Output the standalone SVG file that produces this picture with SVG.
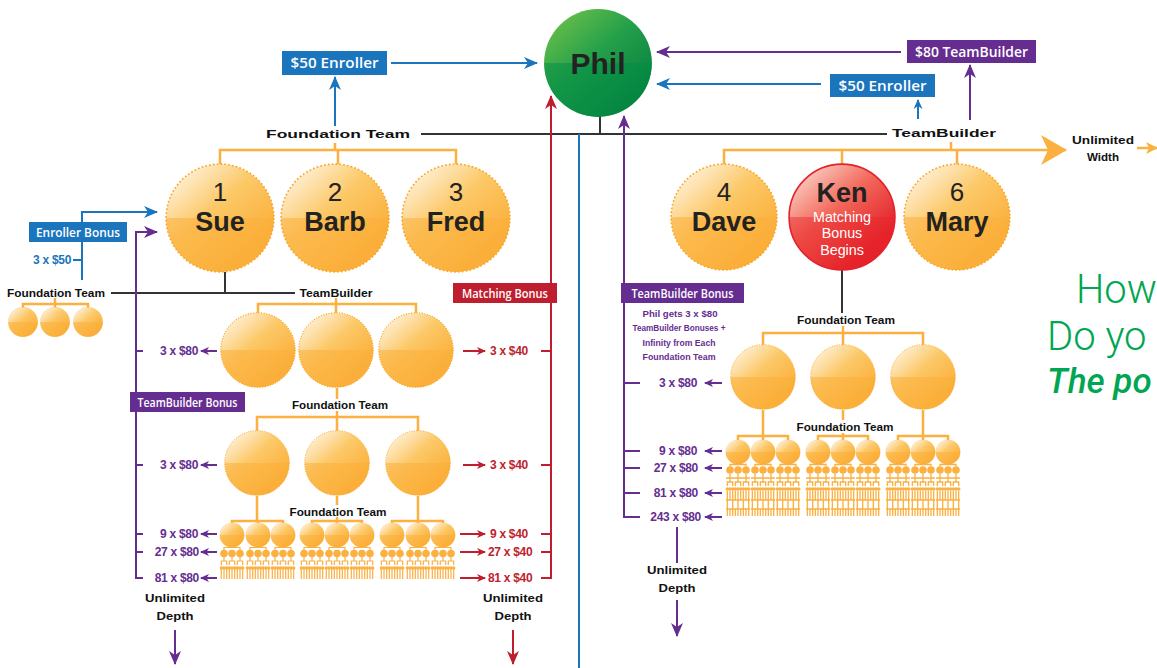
<svg xmlns="http://www.w3.org/2000/svg" xmlns:xlink="http://www.w3.org/1999/xlink" width="1157" height="668" viewBox="0 0 1157 668">
<style>
.k{font-family:"Liberation Sans",Arial,sans-serif;font-weight:bold;fill:#111;font-size:11px}
.am{font-family:"Liberation Sans",Arial,sans-serif;font-weight:bold;font-size:12px;letter-spacing:-0.3px}
.pu{fill:#662d91}.rd{fill:#be1e2d}.bl{fill:#1b75bc}
.bx{font-family:"Open Sans","Liberation Sans",sans-serif;font-weight:600;fill:#fff}
.nm{font-family:"Liberation Sans",Arial,sans-serif;fill:#222;text-anchor:middle}
.num{font-size:26px;font-weight:400}
.name{font-size:27px;font-weight:700}
.kw{font-size:14.3px;fill:#fff}
.ln{fill:none;stroke-width:2}
.cb{stroke:#1b75bc}.cp{stroke:#662d91}.cr{stroke:#be1e2d}.ck{stroke:#333}.co{stroke:#fbb040;stroke-width:2.5}
.gr{font-family:Roboto,"Liberation Sans",sans-serif;fill:#00a651}
</style>
<defs>
<linearGradient id="gO" x1="0.1" y1="0.05" x2="0.75" y2="0.8"><stop offset="0" stop-color="#fff4e2"/><stop offset="0.5" stop-color="#fcc867"/><stop offset="1" stop-color="#fbb03b"/></linearGradient>
<linearGradient id="gR" x1="0.1" y1="0.05" x2="0.75" y2="0.8"><stop offset="0" stop-color="#fcd6cc"/><stop offset="0.5" stop-color="#f2685a"/><stop offset="1" stop-color="#e3222b"/></linearGradient>
<linearGradient id="gG" x1="0.1" y1="0.05" x2="0.8" y2="0.85"><stop offset="0" stop-color="#6cbf4a"/><stop offset="0.5" stop-color="#23a04a"/><stop offset="1" stop-color="#0a8240"/></linearGradient>
<symbol id="ball" viewBox="-50 -50 100 100" overflow="visible"><circle r="49" fill="url(#gO)"/><path d="M-49,0 A49,49 0 0 0 49,0 Z" fill="#fbaf3a" fill-opacity="0.55"/><circle r="49" fill="none" stroke="#f7a623" stroke-width="1.5" stroke-dasharray="1.5 2"/></symbol>
<symbol id="rball" viewBox="-50 -50 100 100" overflow="visible"><circle r="49" fill="url(#gR)"/><path d="M-49,0 A49,49 0 0 0 49,0 Z" fill="#e8262b" fill-opacity="0.45"/><circle r="49" fill="none" stroke="#e3222b" stroke-width="1.5"/></symbol>
<symbol id="gball" viewBox="-50 -50 100 100" overflow="visible"><circle r="49" fill="url(#gG)"/><path d="M-49,0 A49,49 0 0 0 49,0 Z" fill="#008c44" fill-opacity="0.5"/></symbol>
<marker id="aB" viewBox="0 0 14 12" refX="13" refY="6" markerWidth="14" markerHeight="12" markerUnits="userSpaceOnUse" orient="auto"><path d="M0,0 L14,6 L0,12 L4,6 Z" fill="#1b75bc"/></marker>
<marker id="aP" viewBox="0 0 14 12" refX="13" refY="6" markerWidth="14" markerHeight="12" markerUnits="userSpaceOnUse" orient="auto"><path d="M0,0 L14,6 L0,12 L4,6 Z" fill="#662d91"/></marker>
<marker id="aR" viewBox="0 0 14 12" refX="13" refY="6" markerWidth="14" markerHeight="12" markerUnits="userSpaceOnUse" orient="auto"><path d="M0,0 L14,6 L0,12 L4,6 Z" fill="#be1e2d"/></marker>
<marker id="sP" viewBox="0 0 9 8" refX="8" refY="4" markerWidth="9" markerHeight="8" markerUnits="userSpaceOnUse" orient="auto"><path d="M0,0 L9,4 L0,8 L2.5,4 Z" fill="#662d91"/></marker>
<marker id="sR" viewBox="0 0 9 8" refX="8" refY="4" markerWidth="9" markerHeight="8" markerUnits="userSpaceOnUse" orient="auto"><path d="M0,0 L9,4 L0,8 L2.5,4 Z" fill="#be1e2d"/></marker>
<marker id="sB" viewBox="0 0 10 9" refX="9" refY="4.5" markerWidth="10" markerHeight="9" markerUnits="userSpaceOnUse" orient="auto"><path d="M0,0 L10,4.5 L0,9 L3,4.5 Z" fill="#1b75bc"/></marker>
<marker id="aO" viewBox="0 0 26 30" refX="25" refY="15" markerWidth="26" markerHeight="30" markerUnits="userSpaceOnUse" orient="auto"><path d="M0,0 L26,15 L0,30 L7,15 Z" fill="#fbb040"/></marker>
<marker id="sO" viewBox="0 0 12 12" refX="11" refY="6" markerWidth="12" markerHeight="12" markerUnits="userSpaceOnUse" orient="auto"><path d="M0,0 L12,6 L0,12 L3,6 Z" fill="#fbb040"/></marker>
<g id="famL">
<use href="#ball" x="-12.5" y="-12.5" width="25" height="25"/>
<path d="M-8,15 V12.5 H8 V15 M0,12 V12.5" fill="none" stroke="#fbb040" stroke-width="1.2"/>
<g fill="#fbb040"><circle cx="-8" cy="18.5" r="3.8"/><circle cx="0" cy="18.5" r="3.8"/><circle cx="8" cy="18.5" r="3.8"/>
<circle cx="-10.7" cy="33" r="1.7"/><circle cx="-8" cy="33" r="1.7"/><circle cx="-5.3" cy="33" r="1.7"/><circle cx="-2.7" cy="33" r="1.7"/><circle cx="0" cy="33" r="1.7"/><circle cx="2.7" cy="33" r="1.7"/><circle cx="5.3" cy="33" r="1.7"/><circle cx="8" cy="33" r="1.7"/><circle cx="10.7" cy="33" r="1.7"/></g>
<path d="M-10.7,30 V26 H-5.3 V30 M-2.7,30 V26 H2.7 V30 M5.3,30 V26 H10.7 V30 M-8,22 V26 M0,22 V26 M8,22 V26 M-10.7,34 V44 M-8,34 V44 M-5.3,34 V44 M-2.7,34 V44 M0,34 V44 M2.7,34 V44 M5.3,34 V44 M8,34 V44 M10.7,34 V44" fill="none" stroke="#fbb040" stroke-width="1.2"/>
</g>
<g id="famR">
<use href="#ball" x="-12.5" y="-12.5" width="25" height="25"/>
<g fill="#fbb040"><circle cx="-8" cy="18" r="3.8"/><circle cx="0" cy="18" r="3.8"/><circle cx="8" cy="18" r="3.8"/>
<circle cx="-10.7" cy="37" r="1.8"/><circle cx="-8" cy="37" r="1.8"/><circle cx="-5.3" cy="37" r="1.8"/><circle cx="-2.7" cy="37" r="1.8"/><circle cx="0" cy="37" r="1.8"/><circle cx="2.7" cy="37" r="1.8"/><circle cx="5.3" cy="37" r="1.8"/><circle cx="8" cy="37" r="1.8"/><circle cx="10.7" cy="37" r="1.8"/></g>
<path d="M-8,14 V12.5 H8 V14 M-12,26 H12 M-8,22 V26 M0,22 V26 M8,22 V26 M-10.7,34 V30 H-5.3 V34 M-2.7,34 V30 H2.7 V34 M5.3,34 V30 H10.7 V34 M-8,26 V30 M0,26 V30 M8,26 V30 M-12,48 H12 M-10.7,39 V48 M-8,39 V48 M-5.3,39 V48 M-2.7,39 V48 M0,39 V48 M2.7,39 V48 M5.3,39 V48 M8,39 V48 M10.7,39 V48 M-12,57 H12 M-10.7,48 V64 M-8,57 V64 M-5.3,48 V64 M-2.7,57 V64 M0,48 V64 M2.7,57 V64 M5.3,48 V64 M8,57 V64 M10.7,48 V64" fill="none" stroke="#fbb040" stroke-width="1.3"/>
</g>
</defs>
<rect width="1157" height="668" fill="#fff"/>

<g id="connectors">
<path class="ln ck" d="M600,115 V134 M421,134 H887 M225,272 V293 M111,293 H295 M842,270 V313"/>
<path class="ln cb" d="M391,63 H537" marker-end="url(#aB)"/>
<path class="ln cb" d="M335,126 V77" marker-end="url(#aB)"/>
<path class="ln cb" d="M579,134 V668"/>
<path class="ln cb" d="M821,84 H657" marker-end="url(#aB)"/>
<path class="ln cb" d="M918,119 V100" marker-end="url(#sB)"/>
<path class="ln cb" d="M82,280 V212 H157" marker-end="url(#aB)"/>
<path class="ln cb" d="M73,260 H82"/>
<path class="ln cp" d="M901,52 H657" marker-end="url(#aP)"/>
<path class="ln cp" d="M970,120 V65" marker-end="url(#aP)"/>
<path class="ln cp" d="M640,517 H624 V116" marker-end="url(#aP)"/>
<path class="ln cp" d="M624,383 H640 M624,451 H640 M624,468 H640 M624,493 H640"/>
<path class="ln cp" d="M143,578 H136 V232 H157" marker-end="url(#aP)"/>
<path class="ln cp" d="M136,351 H143 M136,465 H143 M136,534 H143 M136,552 H143"/>
<g class="ln cp" marker-end="url(#sP)">
<path d="M217,351 H201"/><path d="M217,465 H201"/><path d="M217,534 H201"/><path d="M217,552 H201"/><path d="M217,578 H201"/>
<path d="M722,383 H705"/><path d="M722,451 H705"/><path d="M722,468 H705"/><path d="M722,493 H705"/><path d="M722,517 H705"/>
</g>
<path class="ln cp" d="M677,527 V563"/>
<path class="ln cp" d="M677,600 V636" marker-end="url(#aP)"/>
<path class="ln cp" d="M175,630 V664" marker-end="url(#aP)"/>
<path class="ln cr" d="M541,578 H551 V96" marker-end="url(#aR)"/>
<path class="ln cr" d="M541,351 H551 M541,465 H551 M541,534 H551 M541,552 H551"/>
<g class="ln cr" marker-end="url(#sR)">
<path d="M463,351 H485"/><path d="M463,465 H485"/><path d="M460,534 H485"/><path d="M460,552 H485"/><path d="M460,578 H485"/>
</g>
<path class="ln cr" d="M513,630 V664" marker-end="url(#aR)"/>
<path class="ln co" d="M220,165 V150 H456 V165 M335,143 V150 M338,150 V165"/>
<path class="ln co" d="M724,165 V150 H1066" marker-end="url(#aO)"/>
<path class="ln co" d="M842,150 V165 M957,150 V165 M951,142 V150"/>
<path class="ln co" d="M1137,148 H1157" marker-end="url(#sO)"/>
<path class="ln co" stroke-width="1.5" d="M23,308 V304 H88 V308 M55,298 V308"/>
<path class="ln co" stroke-width="1.5" d="M258,313 V304 H416 V313 M336,298 V313"/>
<path class="ln co" stroke-width="1.5" d="M337,388 V399 M257,431 V417 H418 V431 M337,411 V431"/>
<path class="ln co" stroke-width="1.5" d="M257,496 V521 M418,496 V521 M337,496 V505 M232,523 V521 H283 V523 M312,523 V521 H362 V523 M392,523 V521 H443 V523 M258,521 V523 M337,517 V523 M418,521 V523"/>
<path class="ln co" stroke-width="1.5" d="M763,345 V333 H923 V345 M843,326 V345"/>
<path class="ln co" stroke-width="1.5" d="M763,410 V436 M923,410 V436 M843,410 V420 M738,440 V436 H788 V440 M818,440 V436 H868 V440 M898,440 V436 H948 V440 M763,436 V440 M843,433 V440 M923,436 V440"/>
</g>

<g id="phil"><use href="#gball" x="543" y="8" width="110" height="110"/><text class="nm" x="598" y="74" font-size="30" font-weight="700">Phil</text></g>

<g id="box-enroller-left"><rect x="282" y="51" width="105" height="24" fill="#1b75bc"/><text class="bx" x="334.5" y="68" font-size="14" text-anchor="middle" textLength="88" lengthAdjust="spacingAndGlyphs">$50 Enroller</text></g>
<g id="box-teambuilder-right"><rect x="907" y="40" width="129" height="23" fill="#662d91"/><text class="bx" x="971.5" y="56.5" font-size="14" text-anchor="middle" textLength="113" lengthAdjust="spacingAndGlyphs">$80 TeamBuilder</text></g>
<g id="box-enroller-right"><rect x="830" y="74" width="105" height="23" fill="#1b75bc"/><text class="bx" x="882.5" y="90.5" font-size="14" text-anchor="middle" textLength="88" lengthAdjust="spacingAndGlyphs">$50 Enroller</text></g>

<g id="lbl-foundation-top"><text class="k" x="338" y="138" font-size="16" text-anchor="middle" textLength="144" lengthAdjust="spacingAndGlyphs">Foundation Team</text></g>
<g id="lbl-teambuilder-top"><text class="k" x="944" y="137" font-size="16" text-anchor="middle" textLength="104" lengthAdjust="spacingAndGlyphs">TeamBuilder</text></g>
<g id="lbl-width"><text class="k" x="1103" y="144" text-anchor="middle" textLength="62" lengthAdjust="spacingAndGlyphs">Unlimited</text><text class="k" x="1103" y="161" text-anchor="middle" textLength="32" lengthAdjust="spacingAndGlyphs">Width</text></g>

<g id="sue"><use href="#ball" x="165" y="163" width="110" height="110"/><text class="nm num" x="220" y="201">1</text><text class="nm name" x="220" y="231">Sue</text></g>
<g id="barb"><use href="#ball" x="280" y="163" width="110" height="110"/><text class="nm num" x="335" y="201">2</text><text class="nm name" x="335" y="231">Barb</text></g>
<g id="fred"><use href="#ball" x="401" y="163" width="110" height="110"/><text class="nm num" x="456" y="201">3</text><text class="nm name" x="456" y="231">Fred</text></g>
<g id="dave"><use href="#ball" x="670" y="163" width="108" height="108"/><text class="nm num" x="724" y="201">4</text><text class="nm name" x="724" y="231">Dave</text></g>
<g id="ken"><use href="#rball" x="788" y="163" width="108" height="108"/><text class="nm name" x="842" y="202">Ken</text>
<text class="nm kw" x="842" y="221.5">Matching</text><text class="nm kw" x="842" y="238">Bonus</text><text class="nm kw" x="842" y="254.5">Begins</text></g>
<g id="mary"><use href="#ball" x="903" y="163" width="108" height="108"/><text class="nm num" x="957" y="201">6</text><text class="nm name" x="957" y="231">Mary</text></g>

<g id="enroller-bonus"><rect x="29" y="222" width="98" height="20" fill="#1b75bc"/><text class="bx" x="78" y="236.5" font-size="12" text-anchor="middle" textLength="84" lengthAdjust="spacingAndGlyphs">Enroller Bonus</text>
<text class="am bl" x="71" y="264" text-anchor="end">3 x $50</text></g>

<g id="left-foundation"><text class="k" x="56" y="297" text-anchor="middle" textLength="98" lengthAdjust="spacingAndGlyphs">Foundation Team</text>
<use href="#ball" x="8" y="307" width="30" height="30"/><use href="#ball" x="40" y="307" width="30" height="30"/><use href="#ball" x="73" y="307" width="30" height="30"/></g>
<g id="left-teambuilder-lbl"><text class="k" x="336" y="297" text-anchor="middle" textLength="73" lengthAdjust="spacingAndGlyphs">TeamBuilder</text></g>

<g id="left-level2"><use href="#ball" x="220" y="312" width="76" height="76"/><use href="#ball" x="298" y="312" width="76" height="76"/><use href="#ball" x="378" y="312" width="76" height="76"/></g>
<g id="left-level2-lbl"><text class="k" x="340" y="409" text-anchor="middle" textLength="96" lengthAdjust="spacingAndGlyphs">Foundation Team</text></g>
<g id="left-level3"><use href="#ball" x="224" y="430" width="66" height="66"/><use href="#ball" x="304" y="430" width="66" height="66"/><use href="#ball" x="385" y="430" width="66" height="66"/></g>
<g id="left-level3-lbl"><text class="k" x="338" y="516" text-anchor="middle" textLength="97" lengthAdjust="spacingAndGlyphs">Foundation Team</text></g>
<g id="left-level4">
<use href="#famL" x="232" y="535"/><use href="#famL" x="258" y="535"/><use href="#famL" x="283" y="535"/>
<use href="#famL" x="312" y="535"/><use href="#famL" x="337" y="535"/><use href="#famL" x="362" y="535"/>
<use href="#famL" x="392" y="535"/><use href="#famL" x="418" y="535"/><use href="#famL" x="443" y="535"/>
</g>

<g id="teambuilder-bonus-left"><rect x="130" y="392" width="115" height="20" fill="#662d91"/><text class="bx" x="187.5" y="406.5" font-size="12" text-anchor="middle" textLength="100" lengthAdjust="spacingAndGlyphs">TeamBuilder Bonus</text></g>
<g id="left-amounts">
<text class="am pu" x="198" y="355" text-anchor="end">3 x $80</text>
<text class="am pu" x="198" y="469" text-anchor="end">3 x $80</text>
<text class="am pu" x="198" y="538" text-anchor="end">9 x $80</text>
<text class="am pu" x="199" y="556" text-anchor="end">27 x $80</text>
<text class="am pu" x="199" y="582" text-anchor="end">81 x $80</text>
</g>
<g id="matching-bonus"><rect x="453" y="283" width="104" height="20" fill="#be1e2d"/><text class="bx" x="505" y="297.5" font-size="12" text-anchor="middle" textLength="86" lengthAdjust="spacingAndGlyphs">Matching Bonus</text></g>
<g id="right-amounts-red">
<text class="am rd" x="490" y="355">3 x $40</text>
<text class="am rd" x="490" y="469">3 x $40</text>
<text class="am rd" x="490" y="538">9 x $40</text>
<text class="am rd" x="488" y="556">27 x $40</text>
<text class="am rd" x="488" y="582">81 x $40</text>
</g>
<g id="depth-left"><text class="k" x="175" y="602" text-anchor="middle" textLength="60" lengthAdjust="spacingAndGlyphs">Unlimited</text><text class="k" x="175" y="620" text-anchor="middle" textLength="37" lengthAdjust="spacingAndGlyphs">Depth</text></g>
<g id="depth-mid"><text class="k" x="513" y="602" text-anchor="middle" textLength="60" lengthAdjust="spacingAndGlyphs">Unlimited</text><text class="k" x="513" y="620" text-anchor="middle" textLength="37" lengthAdjust="spacingAndGlyphs">Depth</text></g>

<g id="teambuilder-bonus-right"><rect x="621" y="283" width="123" height="20" fill="#662d91"/><text class="bx" x="682.5" y="297.5" font-size="12" text-anchor="middle" textLength="102" lengthAdjust="spacingAndGlyphs">TeamBuilder Bonus</text>
<g class="k pu" font-size="9" text-anchor="middle" style="font-size:9px">
<text x="680" y="317" textLength="75" lengthAdjust="spacingAndGlyphs">Phil gets 3 x $80</text>
<text x="679" y="331" textLength="93" lengthAdjust="spacingAndGlyphs">TeamBuilder Bonuses +</text>
<text x="679" y="346" textLength="73" lengthAdjust="spacingAndGlyphs">Infinity from Each</text>
<text x="679" y="360" textLength="73" lengthAdjust="spacingAndGlyphs">Foundation Team</text>
</g></g>
<g id="right-foundation-lbl"><text class="k" x="846" y="324" text-anchor="middle" textLength="98" lengthAdjust="spacingAndGlyphs">Foundation Team</text></g>
<g id="right-level2"><use href="#ball" x="730" y="344" width="66" height="66"/><use href="#ball" x="810" y="344" width="66" height="66"/><use href="#ball" x="890" y="344" width="66" height="66"/></g>
<g id="right-level2-lbl"><text class="k" x="845" y="431" text-anchor="middle" textLength="97" lengthAdjust="spacingAndGlyphs">Foundation Team</text></g>
<g id="right-level3">
<use href="#famR" x="738" y="452"/><use href="#famR" x="763" y="452"/><use href="#famR" x="788" y="452"/>
<use href="#famR" x="818" y="452"/><use href="#famR" x="843" y="452"/><use href="#famR" x="868" y="452"/>
<use href="#famR" x="898" y="452"/><use href="#famR" x="923" y="452"/><use href="#famR" x="948" y="452"/>
</g>
<g id="right-amounts">
<text class="am pu" x="697" y="387" text-anchor="end">3 x $80</text>
<text class="am pu" x="697" y="455" text-anchor="end">9 x $80</text>
<text class="am pu" x="698" y="472" text-anchor="end">27 x $80</text>
<text class="am pu" x="698" y="497" text-anchor="end">81 x $80</text>
<text class="am pu" x="701" y="521" text-anchor="end">243 x $80</text>
</g>
<g id="depth-right"><text class="k" x="677" y="574" text-anchor="middle" textLength="60" lengthAdjust="spacingAndGlyphs">Unlimited</text><text class="k" x="677" y="592" text-anchor="middle" textLength="37" lengthAdjust="spacingAndGlyphs">Depth</text></g>

<g id="headline">
<text class="gr" x="1076" y="303" font-size="40" font-weight="300">How</text>
<text class="gr" x="1047" y="350" font-size="40" font-weight="300">Do yo</text>
<text class="gr" x="1047" y="393" font-size="35" font-weight="500" font-style="italic">The po</text>
</g>
</svg>
